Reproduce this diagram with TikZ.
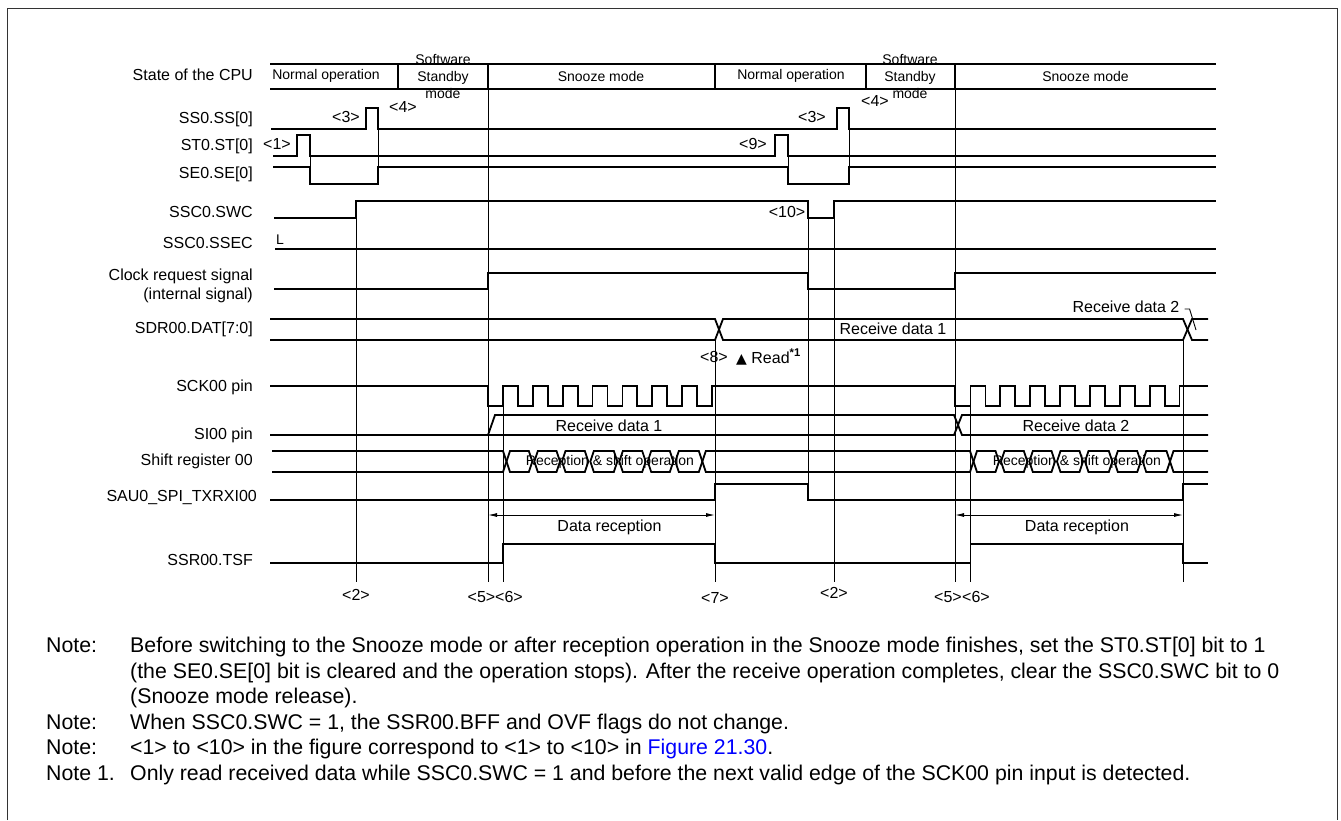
\documentclass[tikz,border=0pt]{standalone}
\usepackage{fontspec}
\setmainfont{Liberation Sans}
\newfontfamily\symfont{DejaVu Sans}
\usepackage{tikz}
\usetikzlibrary{arrows.meta,positioning}

\begin{document}
\begin{tikzpicture}[x=1pt,y=-1pt,
		sig/.style={line width=1.8pt},
		guide/.style={line width=0.9pt},
		lbl/.style={font=\fontsize{16}{19}\selectfont, inner sep=0pt},
		sml/.style={font=\fontsize{14}{17}\selectfont, inner sep=0pt},
		note/.style={font=\fontsize{21.3}{25}\selectfont, inner sep=0pt, anchor=base west}]
	\useasboundingbox (0,0) rectangle (1341,820);
	\draw[line width=1pt, black!80] (7,820) -- (7,8) -- (1337,8) -- (1337,820);

	% signal names
	\node[lbl, anchor=east] (cpu) at (253,75) {State of the CPU};
	\node[lbl, anchor=east] (ss) at (253,119) {SS0.SS[0]};
	\node[lbl, anchor=east] (st) at (253,146) {ST0.ST[0]};
	\node[lbl, anchor=east] (se) at (253,174) {SE0.SE[0]};
	\node[lbl, anchor=east] (swc) at (253,212) {SSC0.SWC};
	\node[lbl, anchor=east] (ssec) at (253,243) {SSC0.SSEC};
	\node[lbl, anchor=east, align=right] (clk) at (253,286) {Clock request signal\\(internal signal)};
	\node[lbl, anchor=east] (sdr) at (253,329) {SDR00.DAT[7:0]};
	\node[lbl, anchor=east] (sck) at (253,387) {SCK00 pin};
	\node[lbl, anchor=east] (si) at (253,435) {SI00 pin};
	\node[lbl, anchor=east] (shr) at (253,461) {Shift register 00};
	\node[lbl, anchor=east] (txrx) at (257,497) {SAU0\_SPI\_TXRXI00};
	\node[lbl, anchor=east] (tsf) at (253,560) {SSR00.TSF};

	% state of the CPU
	\draw[sig] (270,64) -- (1216,64);
	\draw[sig] (270,89) -- (1216,89);
	\foreach \x in {398,488,715,866,955}
		\draw[sig] (\x,64) -- (\x,89);
	\node[sml] (norm1) at (326,76) {Normal operation};
	\node[sml, align=center] (stby1) at (443,76) {Software\\Standby\\mode};
	\node[sml] (snz1) at (601,76) {Snooze mode};
	\node[sml] (norm2) at (791,76) {Normal operation};
	\node[sml, align=center] (stby2) at (910,76) {Software\\Standby\\mode};
	\node[sml] (snz2) at (1085.5,76) {Snooze mode};

	% guide lines
	\foreach \x/\ya/\yb in {356/201/582, 488/89/582, 503/406/582, 715/340/582, 808/201/500,
		834/201/582, 955/89/582, 970.5/406/582, 1183/340/582,
		378/108/184, 849/108/184, 310/135/184, 788/135/184}
		\draw[guide] (\x,\ya) -- (\x,\yb);

	% register waveforms
	\draw[sig] (271,129) -- (366,129) -- (366,108) -- (378,108) -- (378,129) -- (837,129)
		-- (837,108) -- (849,108) -- (849,129) -- (1216,129);
	\draw[sig] (273,156) -- (297,156) -- (297,135) -- (310,135) -- (310,156) -- (775,156)
		-- (775,135) -- (788,135) -- (788,156) -- (1216,156);
	\draw[sig] (273,167) -- (310,167) -- (310,184) -- (378,184) -- (378,167) -- (788,167)
		-- (788,184) -- (849,184) -- (849,167) -- (1216,167);
	\draw[sig] (274,218) -- (356,218) -- (356,201) -- (808,201) -- (808,218) -- (834,218)
		-- (834,201) -- (1216,201);
	\draw[sig] (275,249) -- (1216,249);
	\draw[sig] (274,289) -- (488,289) -- (488,273) -- (808,273) -- (808,289) -- (955,289)
		-- (955,273) -- (1216,273);

	\node[lbl] (p3a) at (346,117) {<3>};
	\node[lbl] (p4a) at (403,107) {<4>};
	\node[lbl] (p3b) at (812,117) {<3>};
	\node[lbl] (p4b) at (875,101) {<4>};
	\node[lbl] (p1) at (277,144) {<1>};
	\node[lbl] (p9) at (753,144) {<9>};
	\node[lbl] (p10) at (787,212) {<10>};
	\node[sml] (lowl) at (280,240) {L};

	% receive buffer
	\draw[sig] (270,319) -- (715,319) -- (723,340) -- (1183,340) -- (1192,319) -- (1208,319);
	\draw[sig] (270,340) -- (715,340) -- (723,319) -- (1183,319) -- (1192,340) -- (1208,340);
	\node[lbl] (rd1) at (893,329) {Receive data 1};
	\node[lbl] (rd2) at (1126,307) {Receive data 2};
	\draw[guide] (rd2.east) ++(5,2) -- ++(5,0) -- (1196,330);
	\node[lbl] (p8) at (714,357) {<8>};
	\node[lbl, anchor=west] (rdf) at (736,357) {{\symfont\fontsize{14}{16}\selectfont ▲} Read\textsuperscript{\bfseries *1}};

	% serial clock
	\draw[sig] (270,386) -- (488,386) -- (488,406)
		\foreach \k in {0,...,6} { -- ({503+29.86*\k},406) -- ({503+29.86*\k},386)
			-- ({517.93+29.86*\k},386) -- ({517.93+29.86*\k},406) }
		-- (712,406) -- (712,386) -- (955,386) -- (955,406)
		\foreach \k in {0,...,6} { -- ({970.5+29.86*\k},406) -- ({970.5+29.86*\k},386)
			-- ({985.43+29.86*\k},386) -- ({985.43+29.86*\k},406) }
		-- (1179.5,406) -- (1179.5,386) -- (1208,386);

	% serial input
	\draw[sig] (270,435) -- (954,435) -- (962,415) -- (1208,415);
	\draw[sig] (488,435) -- (495,415) -- (954,415) -- (962,435) -- (1208,435);
	\node[lbl] (sd1) at (609,426) {Receive data 1};
	\node[lbl] (sd2) at (1076,426) {Receive data 2};

	% shift register
	\draw[sig] (272,451) -- (503,451) -- (506.5,461.5) -- (503,472) -- (272,472);
	\foreach \a/\b in {506.5/532.3, 534.3/560, 562/588.3, 590.3/617.3, 619.3/645.7, 647.7/673.3,
		675.3/702.3, 702.3/973.5, 973.5/999, 1001/1027.3, 1029.3/1055, 1057/1083, 1085/1112.3,
		1114.3/1140.7, 1142.7/1170}
		\draw[sig] (\a,461.5) -- ({\a+3.5},451) -- ({\b-3.5},451) -- (\b,461.5)
			-- ({\b-3.5},472) -- ({\a+3.5},472) -- cycle;
	\draw[sig] (1208,451) -- (1173.5,451) -- (1170,461.5) -- (1173.5,472) -- (1208,472);
	\node[sml] (rso1) at (610,461.5) {Reception \& shift operation};
	\node[sml] (rso2) at (1077,461.5) {Reception \& shift operation};

	% interrupt and status
	\draw[sig] (270,500) -- (715,500) -- (715,484) -- (808,484) -- (808,500) -- (1183,500)
		-- (1183,484) -- (1208,484);
	\draw[sig] (270,563) -- (503,563) -- (503,544) -- (715,544) -- (715,563) -- (970.5,563)
		-- (970.5,544) -- (1183,544) -- (1183,563) -- (1208,563);

	\coordinate (dra) at (488,515);
	\coordinate (drb) at (715,515);
	\coordinate (drc) at (955,515);
	\coordinate (drd) at (1183,515);
	\draw[guide, {Latex[length=9pt,width=4pt]}-{Latex[length=9pt,width=4pt]}] (dra) -- (drb);
	\draw[guide, {Latex[length=9pt,width=4pt]}-{Latex[length=9pt,width=4pt]}] (drc) -- (drd);
	\node[lbl] (dr1) at (609.5,527) {Data reception};
	\node[lbl] (dr2) at (1077,527) {Data reception};

	% timing points
	\node[lbl] (t2a) at (356,595) {<2>};
	\node[lbl] (t5a) at (481.5,597) {<5>};
	\node[lbl] (t6a) at (509,597) {<6>};
	\node[lbl] (t7) at (715,598) {<7>};
	\node[lbl] (t2b) at (834,593) {<2>};
	\node[lbl] (t5b) at (948,597) {<5>};
	\node[lbl] (t6b) at (976,597) {<6>};

	% notes
	\node[note] (na) at (46,652.6) {Note:};
	\node[note] (na1) at (130,652.6) {Before switching to the Snooze mode or after reception operation in the Snooze mode finishes, set the ST0.ST[0] bit to 1};
	\node[note] (na2) at (130,678.1) {(the SE0.SE[0] bit is cleared and the operation stops). After the receive operation completes, clear the SSC0.SWC bit to 0};
	\node[note] (na3) at (130,703.6) {(Snooze mode release).};
	\node[note] (nb) at (46,729.1) {Note:};
	\node[note] (nb1) at (130,729.1) {When SSC0.SWC = 1, the SSR00.BFF and OVF flags do not change.};
	\node[note] (nc) at (46,754.6) {Note:};
	\node[note] (nc1) at (130,754.6) {<1> to <10> in the figure correspond to <1> to <10> in \textcolor{blue}{Figure 21.30}.};
	\node[note] (nd) at (46,780.1) {Note 1.};
	\node[note] (nd1) at (130,780.1) {Only read received data while SSC0.SWC = 1 and before the next valid edge of the SCK00 pin input is detected.};
\end{tikzpicture}
\end{document}
